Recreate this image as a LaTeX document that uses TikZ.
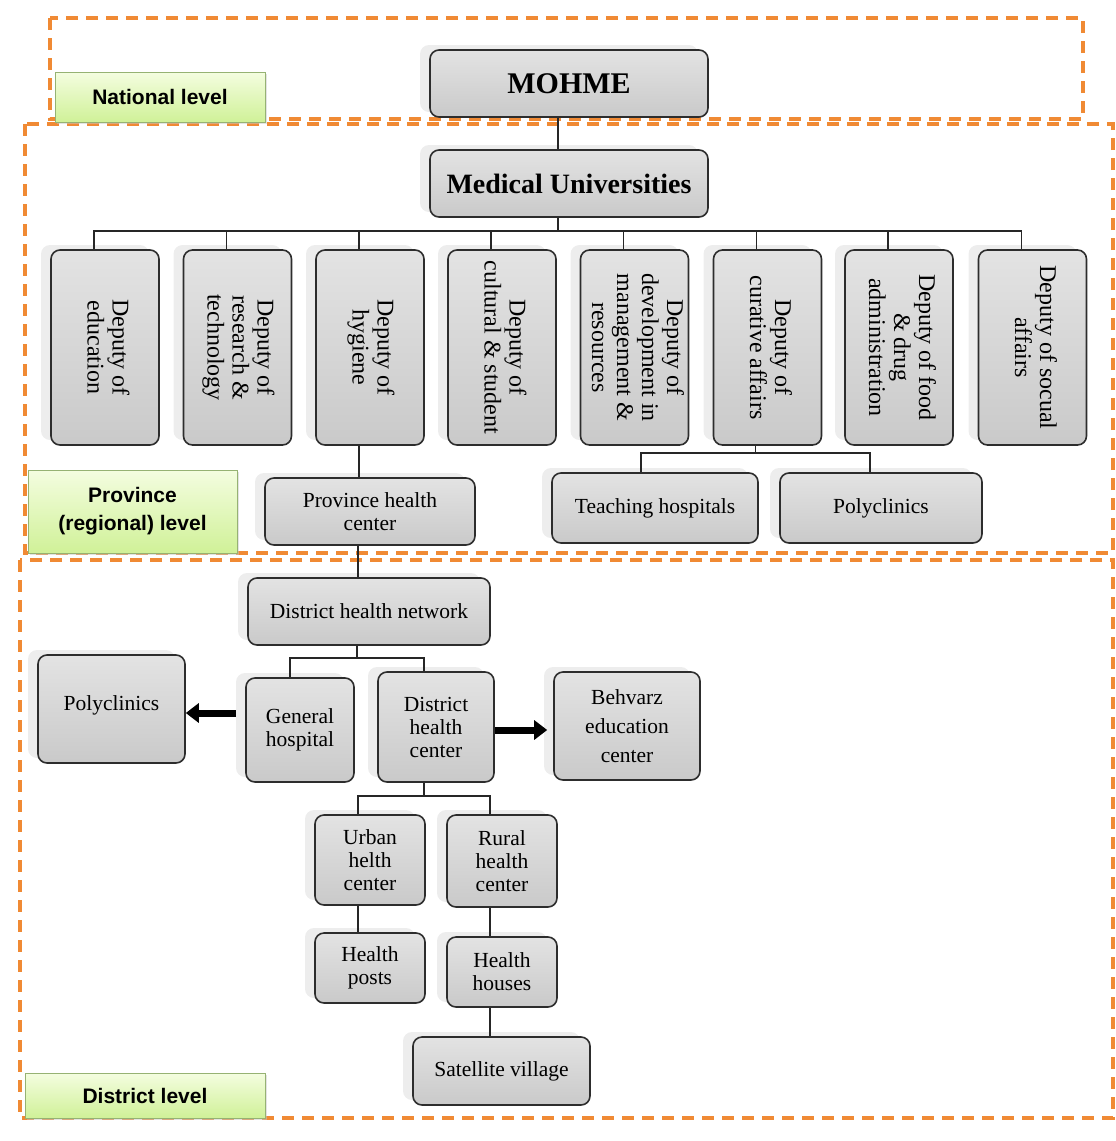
\documentclass[tikz,border=0pt]{standalone}
\usepackage{fontspec}
\setmainfont{Liberation Serif}
\newfontfamily\labfont{Liberation Sans}
\usetikzlibrary{shadows,arrows.meta}

\definecolor{dashor}{RGB}{240,138,52}
\definecolor{boxline}{RGB}{45,45,45}
\definecolor{lvltop}{RGB}{244,253,224}
\definecolor{lvlbot}{RGB}{208,241,152}
\definecolor{lvlline}{RGB}{150,178,115}

\tikzset{
  gbox/.style={draw=boxline, line width=1.6pt, rounded corners=9pt,
    top color=black!11, bottom color=black!21, align=center, inner sep=2pt,
    font=\fontsize{21.5}{23}\selectfont,
    general shadow={shadow xshift=-10pt, shadow yshift=5pt, fill=black!7}},
  lvl/.style={draw=lvlline, line width=0.8pt, top color=lvltop, bottom color=lvlbot,
    align=center, font=\labfont\bfseries\fontsize{21}{28}\selectfont,
    drop shadow={shadow xshift=2pt, shadow yshift=-2pt, fill=black!22}},
  lvlframe/.style={draw=dashor, line width=3.4pt, dash pattern=on 12pt off 8pt},
  conn/.style={draw=black!85, line width=1.5pt},
  bigarrow/.style={draw=black, line width=7pt, -{Triangle[length=13pt,width=19pt]}},
  deputy/.style={gbox, minimum width=108pt, minimum height=195pt}
}
\newcommand{\dep}[1]{\rotatebox{-90}{\fontsize{24}{25}\selectfont\begin{tabular}{@{}c@{}}#1\end{tabular}}}

\begin{document}
\begin{tikzpicture}[x=1pt,y=-1pt]
\useasboundingbox (0,0) rectangle (1116,1141);

% level frames
\draw[lvlframe] (50,18) rectangle (1083,119);
\draw[lvlframe] (25,124) rectangle (1113,553);
\draw[lvlframe] (20,560) rectangle (1113,1118);

% level labels
\node[lvl, minimum width=210pt, minimum height=50pt] (natl) at (160,97) {National level};
\node[lvl, minimum width=209pt, minimum height=83pt] (provl) at (132.5,511.5) {Province\\(regional) level};
\node[lvl, minimum width=240pt, minimum height=45pt] (distl) at (145,1095.5) {District level};

% top
\node[gbox, minimum width=278pt, minimum height=67pt, font=\bfseries\fontsize{30}{32}\selectfont] (mohme) at (569,83.5) {MOHME};
\node[gbox, minimum width=278pt, minimum height=67pt, font=\bfseries\fontsize{28}{30}\selectfont] (mu) at (569,183.5) {Medical Universities};

% deputies
\node[deputy] (d1) at (105,347.5) {\dep{Deputy of\\education}};
\node[deputy] (d2) at (237.5,347.5) {\dep{Deputy of\\research \&\\technology}};
\node[deputy] (d3) at (370,347.5) {\dep{Deputy of\\hygiene}};
\node[deputy] (d4) at (502,347.5) {\dep{Deputy of\\cultural \& student}};
\node[deputy] (d5) at (634.5,347.5) {\dep{Deputy of\\development in\\management \&\\resources}};
\node[deputy] (d6) at (767.5,347.5) {\dep{Deputy of\\curative affairs}};
\node[deputy] (d7) at (899,347.5) {\dep{Deputy of food\\\& drug\\administration}};
\node[deputy] (d8) at (1032.5,347.5) {\dep{Deputy of socual\\affairs}};

% province level
\node[gbox, minimum width=210pt, minimum height=67pt] (phc) at (370,511.5) {Province health\\center};
\node[gbox, minimum width=206pt, minimum height=70pt] (th) at (655,508) {Teaching hospitals};
\node[gbox, minimum width=202pt, minimum height=70pt] (poly1) at (881,508) {Polyclinics};

% district level
\node[gbox, minimum width=242pt, minimum height=67pt] (dhn) at (369,611.5) {District health network};
\node[gbox, minimum width=108pt, minimum height=104pt] (gh) at (300,730) {General\\hospital};
\node[gbox, minimum width=116pt, minimum height=110pt] (dhc) at (436,727) {District\\health\\center};
\node[gbox, minimum width=147pt, minimum height=108pt] (poly2) at (111.5,709) {\raisebox{12pt}{Polyclinics}};
\node[gbox, minimum width=146pt, minimum height=108pt, font=\fontsize{21.5}{29}\selectfont] (bz) at (627,726) {Behvarz\\education\\center};
\node[gbox, minimum width=110pt, minimum height=90pt] (uh) at (370,860) {Urban\\helth\\center};
\node[gbox, minimum width=110pt, minimum height=92pt] (rh) at (502,861) {Rural\\health\\center};
\node[gbox, minimum width=110pt, minimum height=70pt] (hp) at (370,968) {Health\\posts};
\node[gbox, minimum width=110pt, minimum height=70pt] (hh) at (502,972) {Health\\houses};
\node[gbox, minimum width=177pt, minimum height=68pt] (sv) at (501.5,1071) {Satellite village};

% connectors
\draw[conn] ([xshift=-11pt]mohme.south) -- ([xshift=-11pt]mu.north);
\coordinate (bus1) at ([xshift=-11pt,yshift=-13pt]mu.south);
\draw[conn] ([xshift=-11pt]mu.south) -- (bus1);
\foreach \i in {1,...,8} \draw[conn] ([xshift=-11pt]d\i.north) |- (bus1);

\draw[conn] ([xshift=-11pt]d3.south) -- ([xshift=-11pt]d3.south |- phc.north);
\draw[conn] ([xshift=-12pt]phc.south) -- ([xshift=-12pt]phc.south |- dhn.north);

\coordinate (bus2) at ([xshift=-12pt,yshift=-7pt]d6.south);
\draw[conn] ([xshift=-12pt]d6.south) -- (bus2);
\draw[conn] ([xshift=-14pt]th.north) |- (bus2);
\draw[conn] ([xshift=-11pt]poly1.north) |- (bus2);

\coordinate (bus3) at ([xshift=-12pt,yshift=-12pt]dhn.south);
\draw[conn] ([xshift=-12pt]dhn.south) -- (bus3);
\draw[conn] ([xshift=-10pt]gh.north) |- (bus3);
\draw[conn] ([xshift=-12pt]dhc.north) |- (bus3);

\coordinate (bus4) at ([xshift=-12pt,yshift=-13pt]dhc.south);
\draw[conn] ([xshift=-12pt]dhc.south) -- (bus4);
\draw[conn] ([xshift=-12pt]uh.north) |- (bus4);
\draw[conn] ([xshift=-12pt]rh.north) |- (bus4);

\draw[conn] ([xshift=-12pt]uh.south) -- ([xshift=-12pt]uh.south |- hp.north);
\draw[conn] ([xshift=-12pt]rh.south) -- ([xshift=-12pt]rh.south |- hh.north);
\draw[conn] ([xshift=-12pt]hh.south) -- ([xshift=-12pt]hh.south |- sv.north);

\coordinate (a1) at ([xshift=-9pt,yshift=17pt]gh.west);
\draw[bigarrow] (a1) -- (a1 -| poly2.east);
\coordinate (a2) at ([yshift=-3pt]dhc.east);
\draw[bigarrow] (a2) -- ([xshift=-6pt]a2 -| bz.west);
\end{tikzpicture}
\end{document}
